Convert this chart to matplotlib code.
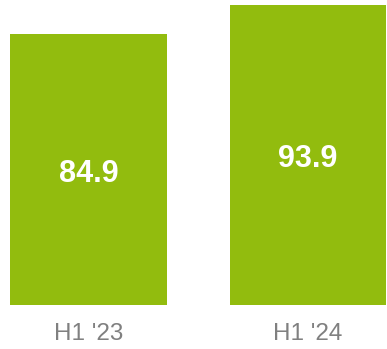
import matplotlib.pyplot as plt

# Values
periods = ["H1 '23", "H1 '24"]
values = [84.9, 93.9]

BAR_COLOR = "#92BC0E"
LABEL_COLOR = "#808080"

plt.rcParams['font.family'] = ['Liberation Sans', 'DejaVu Sans']

fig = plt.figure(figsize=(3.87, 3.49), dpi=100)
ax = fig.add_axes([0, 44 / 349, 1, 1 - 44 / 349])

x = range(len(periods))
ax.bar(x, values, width=0.715, color=BAR_COLOR)

# Value labels in the middle of each bar (nudged down a little)
for i, v in enumerate(values):
    ax.annotate(f"{v:.1f}", (i, v / 2), xytext=(0, -3), textcoords='offset points',
                ha='center', va='center', color='white',
                fontsize=22, fontweight='bold')

ax.set_xlim(-0.403, 1.36)
ax.set_ylim(0, 95.62)
ax.set_xticks(list(x))
ax.set_xticklabels(periods, fontsize=17.5, color=LABEL_COLOR)
ax.tick_params(axis='x', length=0, pad=13)
ax.set_yticks([])
for side in ax.spines.values():
    side.set_visible(False)

plt.savefig("out.png", dpi=100)
